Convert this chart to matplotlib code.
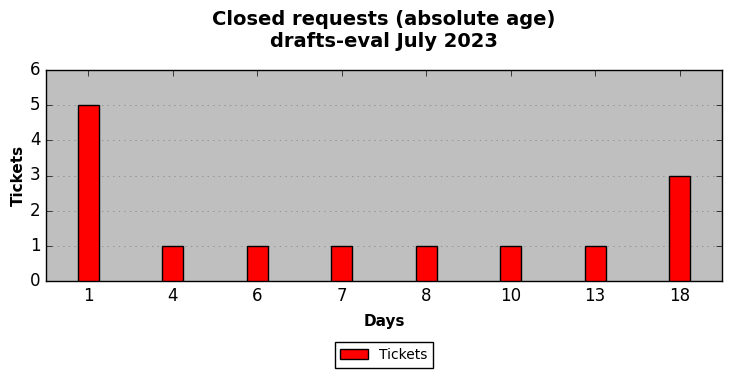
import matplotlib
matplotlib.use("Agg")
import matplotlib.pyplot as plt
import numpy as np

days = ["1", "4", "6", "7", "8", "10", "13", "18"]
tickets = [5, 1, 1, 1, 1, 1, 1, 3]

plt.style.use("classic")
fig = plt.figure(figsize=(7.32, 3.78), dpi=100)
fig.patch.set_facecolor("white")
ax = fig.add_axes([46/732, 1-281/378, 676/732, 211/378])
ax.set_facecolor("#bfbfbf")

x = np.arange(len(days))
ax.bar(x, tickets, width=0.25, color="red", edgecolor="black", align="center", label="Tickets", zorder=3)
ax.set_xlim(-0.5, len(days) - 0.5)
ax.set_ylim(0, 6)
ax.set_xticks(x)
ax.set_xticklabels(days)
ax.tick_params(labelsize=12)
ax.yaxis.grid(True, linestyle=":", color="gray", zorder=0)
ax.set_axisbelow(True)

ax.set_xlabel("Days", fontsize=11, fontweight="bold", labelpad=7)
ax.set_ylabel("Tickets", fontsize=11, fontweight="bold", labelpad=3)
ax.set_title("Closed requests (absolute age)\ndrafts-eval July 2023", fontsize=14, fontweight="bold", y=1.078)

fig.legend(loc="center", bbox_to_anchor=(384/732, 1-355/378), fontsize=10, frameon=True, ncol=1)

fig.savefig("out.png", dpi=100, facecolor="white")
